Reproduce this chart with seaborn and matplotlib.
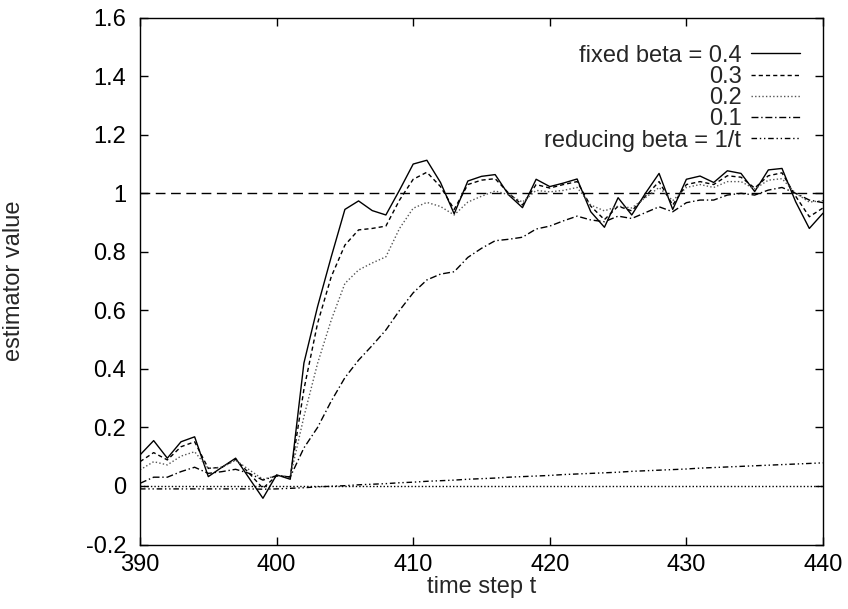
import matplotlib
matplotlib.use("Agg")
import matplotlib.pyplot as plt
import seaborn as sns

# --- Data --------------------------------------------------------------------
time_steps = list(range(390, 441))

beta_04 = [0.106, 0.155, 0.095, 0.151, 0.168, 0.032, 0.064, 0.095, 0.026, -0.042,
           0.038, 0.023, 0.420, 0.613, 0.783, 0.945, 0.974, 0.941, 0.926, 1.011,
           1.100, 1.113, 1.037, 0.930, 1.042, 1.058, 1.064, 0.994, 0.951, 1.048,
           1.023, 1.035, 1.049, 0.937, 0.884, 0.985, 0.926, 1.000, 1.068, 0.945,
           1.048, 1.059, 1.037, 1.077, 1.068, 1.006, 1.080, 1.085, 0.971, 0.880,
           0.932]
beta_03 = [0.083, 0.114, 0.089, 0.134, 0.151, 0.060, 0.064, 0.091, 0.043, -0.008,
           0.035, 0.031, 0.330, 0.556, 0.715, 0.823, 0.875, 0.880, 0.888, 0.977,
           1.048, 1.072, 1.023, 0.945, 1.030, 1.045, 1.050, 1.000, 0.960, 1.030,
           1.018, 1.030, 1.040, 0.956, 0.910, 0.956, 0.940, 0.990, 1.040, 0.960,
           1.030, 1.040, 1.030, 1.060, 1.055, 1.018, 1.060, 1.070, 0.990, 0.920,
           0.950]
beta_02 = [0.055, 0.083, 0.072, 0.102, 0.117, 0.060, 0.064, 0.088, 0.055, 0.023,
           0.035, 0.031, 0.237, 0.419, 0.567, 0.692, 0.738, 0.762, 0.783, 0.880,
           0.949, 0.969, 0.955, 0.926, 0.970, 0.990, 1.008, 0.995, 0.970, 1.010,
           1.005, 1.010, 1.020, 0.960, 0.940, 0.956, 0.950, 0.985, 1.020, 0.975,
           1.020, 1.030, 1.020, 1.040, 1.040, 1.015, 1.045, 1.050, 1.000, 0.970,
           0.975]
beta_01 = [0.009, 0.030, 0.030, 0.049, 0.064, 0.043, 0.049, 0.057, 0.043, 0.020,
           0.035, 0.031, 0.130, 0.200, 0.290, 0.370, 0.430, 0.480, 0.533, 0.600,
           0.660, 0.704, 0.724, 0.732, 0.781, 0.812, 0.838, 0.843, 0.850, 0.878,
           0.888, 0.906, 0.922, 0.909, 0.903, 0.922, 0.914, 0.934, 0.954, 0.937,
           0.968, 0.977, 0.977, 0.994, 1.000, 0.994, 1.011, 1.020, 1.000, 0.977,
           0.968]
reducing = [-0.010, -0.010, -0.010, -0.010, -0.010, -0.010, -0.010, -0.010, -0.010, -0.011,
            -0.010, -0.008, -0.006, -0.003, -0.001, 0.001, 0.004, 0.006, 0.008, 0.011,
            0.013, 0.016, 0.018, 0.020, 0.023, 0.025, 0.027, 0.030, 0.032, 0.034,
            0.036, 0.039, 0.041, 0.043, 0.045, 0.047, 0.050, 0.052, 0.054, 0.056,
            0.058, 0.061, 0.063, 0.065, 0.067, 0.069, 0.071, 0.073, 0.075, 0.077,
            0.079]

series_labels = ["fixed beta = 0.4", "0.3", "0.2", "0.1", "reducing beta = 1/t"]
reference_levels = [1.0, 0.0]

x_ticks = [390, 400, 410, 420, 430, 440]
y_ticks = [-0.2, 0.0, 0.2, 0.4, 0.6, 0.8, 1.0, 1.2, 1.4, 1.6]
y_tick_labels = ["-0.2", "0", "0.2", "0.4", "0.6", "0.8", "1", "1.2", "1.4", "1.6"]

# --- Style -------------------------------------------------------------------
sns.set_style("ticks")
plt.rcParams["font.family"] = ["Liberation Sans", "DejaVu Sans"]
FS = 17

styles = [
    dict(linestyle="-", color="black"),
    dict(linestyle=(0, (3, 2.2)), color="black"),
    dict(linestyle=(0, (1, 1.6)), color="#555555"),
    dict(linestyle=(0, (5, 2, 1, 2)), color="black"),
    dict(linestyle=(0, (4, 2, 1, 2, 1, 2)), color="black"),
]

fig = plt.figure(figsize=(8.48, 6.09), dpi=100)
ax = fig.add_axes([0.1651, 0.1059, 0.8054, 0.865])

# reference lines: long dashes at 1, fine dots at 0
ax.axhline(reference_levels[0], color="black", lw=1.0, linestyle=(0, (7, 4)))
ax.axhline(reference_levels[1], color="black", lw=1.0, linestyle=(0, (1, 1.5)))

for vals, lab, st in zip([beta_04, beta_03, beta_02, beta_01, reducing],
                         series_labels, styles):
    sns.lineplot(x=time_steps, y=vals, ax=ax, label=lab, lw=1.0, **st)

ax.set_xlim(390, 440)
ax.set_ylim(-0.2, 1.6)
ax.set_xticks(x_ticks)
ax.set_yticks(y_ticks)
ax.set_yticklabels(y_tick_labels)
ax.tick_params(direction="in", length=6, width=1, top=True, right=True,
               labelsize=FS, colors="black")
ax.tick_params(axis="x", pad=7)
ax.tick_params(axis="y", pad=10)
for sp in ax.spines.values():
    sp.set_visible(True)
    sp.set_linewidth(1.0)
    sp.set_color("black")

ax.set_xlabel("time step t", fontsize=FS, labelpad=0)
ax.set_ylabel("estimator value", fontsize=FS)
ax.yaxis.set_label_coords(-0.168, 0.5)

leg = ax.legend(loc="upper right", bbox_to_anchor=(0.967, 0.949),
                frameon=False, markerfirst=False, fontsize=FS,
                handlelength=2.1, handletextpad=0.4, labelspacing=-0.03,
                borderpad=0, borderaxespad=0)

fig.savefig("out.png", dpi=100)
